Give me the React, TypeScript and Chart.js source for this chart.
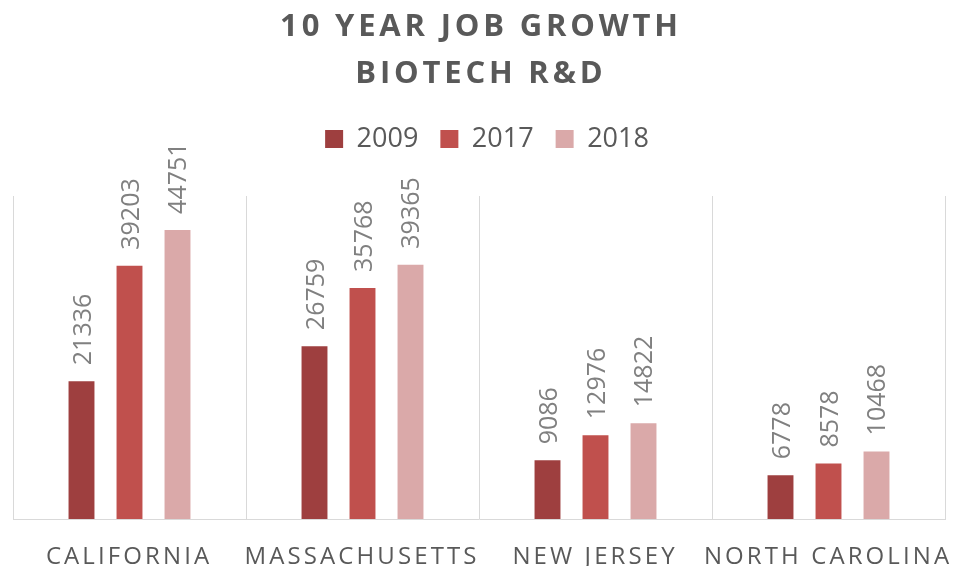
import React, { useEffect, useRef } from 'react';
import { Chart, registerables } from 'chart.js';

Chart.register(...registerables);

const TITLE_LINES = ['10 YEAR JOB GROWTH', 'BIOTECH R&D'];
const CATEGORIES = ['CALIFORNIA', 'MASSACHUSETTS', 'NEW JERSEY', 'NORTH CAROLINA'];
const SERIES_LABELS = ['2009', '2017', '2018'];
const JOBS_2009 = [21336, 26759, 9086, 6778];
const JOBS_2017 = [39203, 35768, 12976, 8578];
const JOBS_2018 = [44751, 39365, 14822, 10468];
const Y_MIN = 0;
const Y_MAX = 50000;

const SERIES_COLORS = ['#9e3f3f', '#c0504d', '#daa9a9'];
const TEXT_COLOR = '#595959';
const LABEL_COLOR = '#808080';
const GRID_COLOR = '#d9d9d9';
const FONT = '"Open Sans", "Noto Sans", sans-serif';
const LEGEND_GAP = 33.5;
const LEGEND_SHIFT = 16;

const textPlugin = {
  id: 'customText',
  beforeInit(chart: any) {
    const legend = chart.legend;
    if (legend) {
      const fit = legend.fit;
      legend.fit = function () {
        fit.call(this);
        this.height += LEGEND_GAP;
        if (this.lineWidths && this.lineWidths.length) this.lineWidths[0] -= LEGEND_SHIFT;
      };
    }
  },
  afterDraw(chart: any) {
    const ctx = chart.ctx as CanvasRenderingContext2D;
    const area = chart.chartArea;

    // Title
    ctx.save();
    ctx.fillStyle = TEXT_COLOR;
    ctx.font = `bold 31px ${FONT}`;
    const tls = 3.8;
    (ctx as any).letterSpacing = `${tls}px`;
    ctx.textAlign = 'center';
    ctx.textBaseline = 'alphabetic';
    const cx = (area.left + area.right) / 2 + tls / 2;
    ctx.fillText(TITLE_LINES[0], cx, 36);
    ctx.fillText(TITLE_LINES[1], cx, 83);
    ctx.restore();

    // X category labels
    ctx.save();
    ctx.fillStyle = TEXT_COLOR;
    ctx.font = `24px ${FONT}`;
    const xls = 3.1;
    (ctx as any).letterSpacing = `${xls}px`;
    ctx.textAlign = 'center';
    ctx.textBaseline = 'alphabetic';
    const xScale = chart.scales.x;
    CATEGORIES.forEach((c, i) => {
      ctx.fillText(c, xScale.getPixelForValue(i) + xls / 2 - 2, 564);
    });
    ctx.restore();

    // Data labels (rotated)
    ctx.save();
    ctx.fillStyle = LABEL_COLOR;
    ctx.font = `25px ${FONT}`;
    ctx.textAlign = 'left';
    ctx.textBaseline = 'alphabetic';
    chart.data.datasets.forEach((ds: any, di: number) => {
      const meta = chart.getDatasetMeta(di);
      meta.data.forEach((el: any, i: number) => {
        ctx.save();
        ctx.translate(el.x + 9, el.y - 16);
        ctx.rotate(-Math.PI / 2);
        ctx.fillText(String(ds.data[i]), 0, 0);
        ctx.restore();
      });
    });
    ctx.restore();
  },
};

export default function App() {
  const canvasRef = useRef<HTMLCanvasElement | null>(null);

  useEffect(() => {
    document.body.style.margin = '0';
    const canvas = canvasRef.current;
    if (!canvas) return;
    const seriesData = [JOBS_2009, JOBS_2017, JOBS_2018];
    const chart = new Chart(canvas, {
      type: 'bar',
      data: {
        labels: CATEGORIES,
        datasets: SERIES_LABELS.map((label, i) => ({
          label,
          data: seriesData[i],
          backgroundColor: SERIES_COLORS[i],
          borderWidth: 0,
          categoryPercentage: 0.618,
          barPercentage: 0.54,
        })),
      },
      options: {
        responsive: false,
        maintainAspectRatio: false,
        animation: false,
        devicePixelRatio: 1,
        layout: { padding: { top: 103.5, left: 13, right: 9, bottom: 47 } },
        plugins: {
          title: { display: false },
          tooltip: { enabled: false },
          legend: {
            display: true,
            position: 'top',
            labels: {
              font: { family: FONT, size: 27 },
              color: TEXT_COLOR,
              boxWidth: 18,
              boxHeight: 18,
              padding: 22,
            },
          },
        },
        scales: {
          x: {
            type: 'category',
            grid: { offset: true, color: GRID_COLOR, lineWidth: 1, drawTicks: false },
            border: { color: GRID_COLOR, width: 1 },
            ticks: { display: false },
          },
          y: {
            display: false,
            min: Y_MIN,
            max: Y_MAX,
          },
        },
      },
      plugins: [textPlugin],
    });
    return () => chart.destroy();
  }, []);

  return (
    <div style={{ width: 954, height: 566 }}>
      <canvas ref={canvasRef} width={954} height={566} style={{ display: 'block' }} />
    </div>
  );
}
